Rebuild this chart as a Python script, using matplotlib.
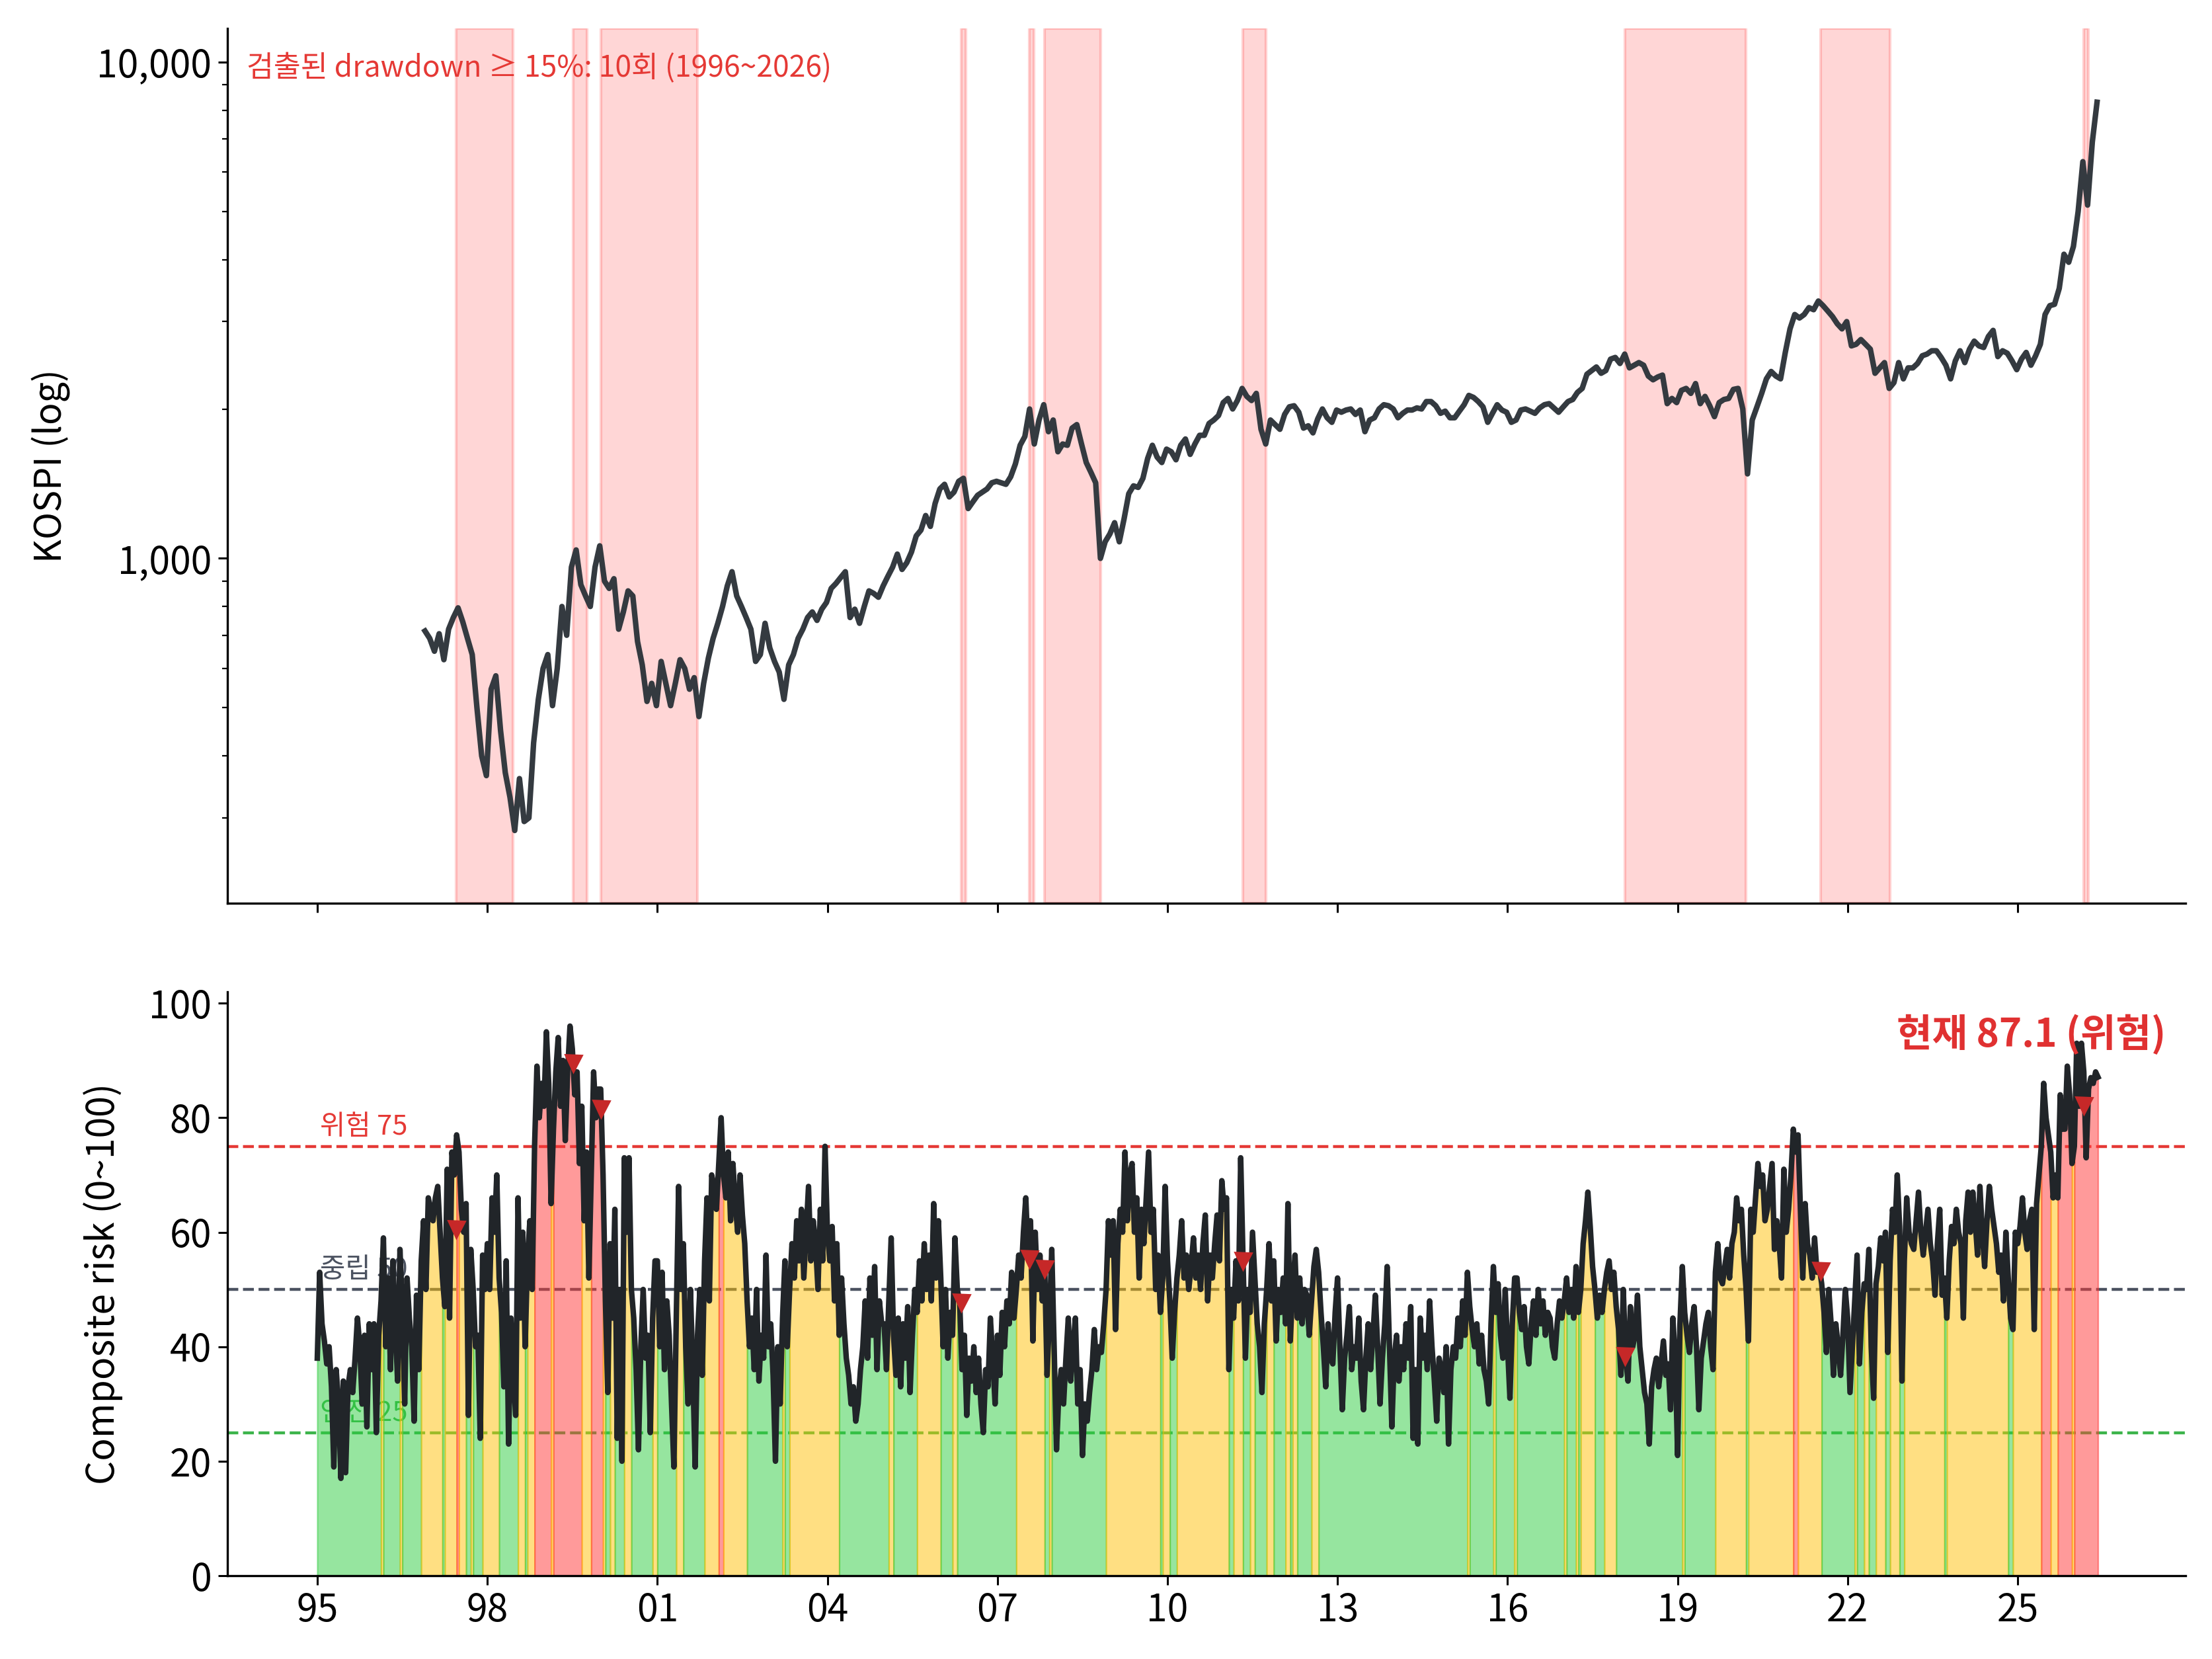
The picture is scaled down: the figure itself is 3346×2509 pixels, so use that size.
import numpy as np
import matplotlib
matplotlib.use("Agg")
import matplotlib.pyplot as plt
from matplotlib.ticker import FuncFormatter, NullFormatter, LogLocator

plt.rcParams['font.family'] = ['Noto Sans CJK KR', 'DejaVu Sans']
plt.rcParams['axes.unicode_minus'] = False

# KOSPI, monthly (starts late 1996)
kospi_1996_2005 = [
    714, 690,
    650, 705, 625, 720, 760, 795, 745, 690, 640, 500, 400, 365,
    545, 580, 450, 370, 330, 283, 360, 295, 300, 425, 520, 600,
    640, 505, 600, 800, 700, 960, 1040, 885, 840, 800, 960, 1060,
    900, 870, 910, 720, 780, 860, 840, 680, 610, 515, 560, 505,
    620, 560, 505, 560, 625, 600, 545, 575, 480, 560, 630, 690,
    740, 800, 880, 940, 840, 800, 760, 720, 620, 640, 740, 660,
    620, 590, 520, 610, 640, 690, 720, 760, 780, 750, 790, 815,
    870, 890, 915, 940, 760, 790, 740, 800, 860, 850, 835, 880,
    920, 960, 1020, 950, 980, 1030, 1110, 1140, 1220, 1160, 1290, 1380,
]
kospi_2006_2015 = [
    1410, 1330, 1360, 1430, 1450, 1260, 1300, 1340, 1360, 1380, 1420, 1430,
    1420, 1410, 1460, 1550, 1690, 1760, 2000, 1700, 1900, 2040, 1800, 1900,
    1640, 1700, 1690, 1830, 1860, 1700, 1560, 1490, 1420, 1000, 1080, 1120,
    1180, 1080, 1200, 1350, 1400, 1390, 1450, 1590, 1690, 1600, 1560, 1660,
    1640, 1580, 1690, 1740, 1620, 1700, 1770, 1770, 1870, 1900, 1940, 2060,
    2100, 2000, 2080, 2200, 2120, 2080, 2150, 1820, 1700, 1900, 1860, 1820,
    1950, 2020, 2030, 1970, 1830, 1850, 1790, 1910, 2000, 1920, 1880, 1990,
    1970, 1990, 2000, 1950, 1990, 1800, 1900, 1920, 2000, 2040, 2030, 2000,
    1920, 1960, 1990, 1990, 2010, 2000, 2070, 2070, 2030, 1960, 1980, 1920,
    1920, 1980, 2040, 2130, 2110, 2070, 2020, 1880, 1960, 2040, 1990, 1970,
]
kospi_2016_2026 = [
    1880, 1900, 1990, 2000, 1980, 1960, 2010, 2040, 2050, 2010, 1970, 2020,
    2070, 2090, 2160, 2200, 2350, 2390, 2430, 2360, 2390, 2520, 2540, 2470,
    2580, 2420, 2450, 2480, 2450, 2330, 2290, 2320, 2340, 2050, 2100, 2060,
    2180, 2200, 2150, 2250, 2050, 2120, 2030, 1930, 2060, 2090, 2100, 2190,
    2200, 2000, 1480, 1900, 2020, 2150, 2300, 2380, 2330, 2300, 2600, 2900,
    3100, 3050, 3100, 3200, 3170, 3300, 3230, 3150, 3070, 2970, 2900, 3000,
    2680, 2700, 2760, 2700, 2640, 2360, 2420, 2480, 2200, 2260, 2480, 2300,
    2420, 2420, 2470, 2560, 2580, 2620, 2620, 2540, 2450, 2300, 2500, 2620,
    2480, 2640, 2740, 2680, 2660, 2800, 2880, 2550, 2620, 2590, 2500, 2400,
    2520, 2600, 2450, 2560, 2700, 3100, 3230, 3250, 3500, 4100, 3950, 4250,
    5000, 6300, 5150, 6900, 8300,
]

# composite risk, two readings per month from Jan 1995
risk_1995_2004 = [
    38, 53, 44, 41, 37, 40, 33, 19, 36, 30, 17, 34, 18, 33, 36, 32, 38, 45, 40, 30, 42, 26, 44, 36,
    44, 25, 42, 48, 59, 40, 52, 36, 55, 44, 34, 57, 47, 30, 52, 45, 40, 27, 49, 36, 55, 62, 50, 66,
    64, 62, 66, 68, 60, 52, 47, 71, 45, 74, 70, 77, 74, 64, 60, 65, 28, 57, 50, 40, 42, 24, 56, 50,
    58, 50, 66, 60, 70, 52, 46, 33, 55, 23, 45, 35, 28, 66, 45, 60, 40, 55, 62, 50, 75, 89, 80, 86,
    82, 95, 86, 65, 78, 88, 94, 82, 90, 76, 88, 96, 92, 84, 88, 72, 82, 62, 74, 52, 70, 88, 80, 85,
    85, 70, 48, 32, 58, 45, 64, 24, 50, 20, 73, 60, 73, 50, 45, 36, 22, 40, 50, 38, 42, 25, 45, 55,
    55, 40, 53, 36, 48, 42, 30, 19, 45, 68, 50, 58, 40, 30, 50, 36, 19, 42, 50, 35, 55, 66, 48, 70,
    68, 64, 72, 80, 70, 66, 74, 62, 72, 65, 60, 70, 63, 58, 48, 40, 45, 36, 50, 34, 42, 38, 56, 40,
    44, 35, 20, 40, 30, 45, 55, 40, 50, 58, 52, 62, 55, 64, 52, 60, 68, 55, 62, 58, 50, 64, 55, 75,
    60, 55, 61, 48, 58, 42, 52, 44, 38, 35, 30, 33, 27, 30, 36, 40, 48, 38, 52, 42, 54, 36, 48, 44,
]
risk_2005_2014 = [
    44, 36, 48, 59, 42, 35, 45, 33, 44, 38, 47, 32, 42, 50, 46, 55, 48, 58, 50, 56, 48, 65, 52, 62,
    52, 40, 50, 38, 46, 42, 59, 50, 48, 36, 42, 28, 38, 34, 40, 32, 38, 30, 25, 36, 33, 45, 38, 30,
    42, 35, 46, 40, 48, 44, 53, 45, 50, 56, 52, 60, 66, 56, 62, 41, 60, 50, 56, 48, 54, 35, 45, 57,
    40, 22, 32, 36, 30, 38, 45, 34, 40, 45, 30, 36, 21, 30, 27, 32, 36, 43, 36, 40, 39, 44, 50, 62,
    56, 62, 43, 58, 64, 60, 74, 62, 70, 72, 60, 66, 52, 64, 58, 66, 74, 60, 64, 50, 56, 46, 52, 68,
    55, 48, 38, 46, 52, 56, 62, 52, 56, 50, 54, 59, 52, 56, 50, 58, 63, 48, 56, 52, 58, 63, 55, 69,
    64, 66, 36, 50, 45, 55, 48, 73, 55, 38, 50, 46, 60, 52, 44, 40, 32, 44, 50, 58, 48, 55, 41, 50,
    46, 52, 44, 65, 41, 50, 56, 45, 52, 44, 50, 49, 42, 48, 54, 57, 53, 46, 40, 33, 44, 38, 37, 46,
    52, 40, 29, 38, 42, 47, 36, 40, 38, 45, 34, 29, 38, 44, 36, 42, 49, 40, 30, 38, 44, 54, 40, 26,
    38, 42, 34, 40, 36, 44, 38, 47, 24, 36, 23, 45, 38, 42, 36, 48, 40, 34, 27, 38, 36, 32, 40, 23,
]
risk_2015_2026 = [
    36, 40, 38, 45, 40, 48, 42, 53, 47, 43, 40, 44, 37, 42, 36, 34, 30, 44, 54, 46, 51, 42, 38, 50,
    40, 31, 44, 52, 52, 46, 43, 47, 40, 37, 44, 48, 42, 50, 44, 48, 42, 46, 45, 40, 38, 44, 48, 45,
    48, 52, 46, 50, 45, 54, 46, 50, 58, 62, 67, 61, 54, 50, 45, 49, 46, 50, 53, 55, 50, 53, 47, 43,
    35, 50, 38, 34, 47, 40, 42, 49, 40, 36, 32, 30, 23, 33, 36, 38, 33, 37, 41, 35, 37, 29, 45, 38,
    21, 44, 54, 46, 42, 39, 44, 47, 40, 29, 38, 41, 44, 46, 40, 36, 53, 58, 52, 51, 54, 57, 52, 58,
    60, 66, 62, 64, 56, 50, 41, 64, 60, 66, 72, 68, 70, 62, 64, 68, 72, 57, 62, 58, 52, 71, 60, 64,
    70, 78, 74, 77, 64, 52, 65, 58, 56, 52, 59, 53, 54, 51, 46, 39, 50, 44, 35, 44, 40, 35, 42, 50,
    45, 32, 40, 48, 56, 37, 46, 51, 50, 57, 40, 31, 51, 54, 59, 55, 60, 39, 55, 64, 60, 70, 61, 34,
    55, 66, 60, 58, 57, 62, 67, 60, 56, 60, 64, 58, 55, 49, 58, 64, 49, 52, 45, 55, 61, 58, 64, 60,
    58, 45, 62, 67, 60, 67, 62, 56, 68, 60, 54, 62, 68, 64, 61, 58, 53, 56, 48, 60, 52, 45, 43, 60,
    58, 61, 66, 60, 57, 62, 64, 43, 65, 70, 75, 86, 80, 77, 74, 66, 70, 66, 84, 78, 78, 89, 84, 72,
    75, 93, 82, 93, 88, 73, 85, 87, 86, 88, 87.1,
]

# drawdown >= 15% episodes (start / end, decimal year) and risk at the start
dd_start = [1997.45, 1999.51, 2000.00, 2006.36, 2007.56, 2007.83, 2011.33, 2018.07, 2021.52, 2026.16]
dd_end = [1998.45, 1999.76, 2001.71, 2006.44, 2007.64, 2008.82, 2011.74, 2020.21, 2022.75, 2026.25]
dd_risk = [60.5, 89.5, 81.5, 47.7, 55.3, 53.6, 55.0, 38.4, 53.3, 82.1]

levels = [75, 50, 25]
level_labels = ['위험 75', '중립 50', '안전 25']
level_colors = ['#e53935', '#4b5260', '#3cb44b']
zone_colors = ['#2ecc40', '#ffc107', '#ff3737']   # <50, 50-75, >=75

tick_years = list(range(1995, 2026, 3))
tick_labels = [f'{y % 100:02d}' for y in tick_years]

kospi = np.array(kospi_1996_2005 + kospi_2006_2015 + kospi_2016_2026, dtype=float)
kospi_t = 1996.9 + np.arange(len(kospi)) / 12
risk = np.array(risk_1995_2004 + risk_2005_2014 + risk_2015_2026, dtype=float)
risk_t = 1995 + np.arange(len(risk)) / 24

fig = plt.figure(figsize=(16.73, 12.545), dpi=200)
ax1 = fig.add_axes([0.1027, 0.4556, 0.8853, 0.5274])
ax2 = fig.add_axes([0.1027, 0.0502, 0.8853, 0.3520], sharex=ax1)

# top: KOSPI with drawdown shading
for s, e in zip(dd_start, dd_end):
    ax1.axvspan(s, e, facecolor=(1, 0, 0, 0.16), edgecolor=(1, 0.2, 0.2, 0.22), lw=1.5, zorder=1)
ax1.plot(kospi_t, kospi, color='#343a40', lw=3.0, zorder=3)
ax1.set_yscale('log')
ax1.set_ylim(202, 11700)
ax1.yaxis.set_major_locator(LogLocator(base=10))
ax1.yaxis.set_major_formatter(FuncFormatter(lambda v, p: f'{v:,.0f}'))
ax1.yaxis.set_minor_formatter(NullFormatter())
ax1.set_ylabel('KOSPI (log)', fontsize=20, labelpad=14)
ax1.text(0.01, 0.972, '검출된 drawdown ≥ 15%: 10회 (1996~2026)', transform=ax1.transAxes,
         color='#e53935', fontsize=16, fontweight='light', ha='left', va='top')
ax1.tick_params(labelbottom=False)

# bottom: composite risk
for lvl, lab, c in zip(levels, level_labels, level_colors):
    ax2.axhline(lvl, color=c, ls='--', lw=1.6, zorder=1)
    ax2.text(1995.05, lvl + 1, lab, color=c, fontsize=15, fontweight='light',
             ha='left', va='bottom', zorder=1.2)

# colour each stretch by the zone of its segment midpoint
mid = (risk[:-1] + risk[1:]) / 2
zone = np.digitize(mid, [50, 75])
start = 0
for i in range(1, len(zone) + 1):
    if i == len(zone) or zone[i] != zone[start]:
        sl = slice(start, i + 1)
        c = zone_colors[zone[start]]
        ax2.fill_between(risk_t[sl], 0, risk[sl], facecolor=c, edgecolor=c,
                         alpha=0.5, lw=0.8, zorder=1.5)
        start = i

ax2.plot(risk_t, risk, color='#212529', lw=3.0, zorder=3)
ax2.plot(dd_start, dd_risk, 'v', color='#c62828', ms=9, zorder=4)
ax2.text(0.99, 0.96, f'현재 {risk[-1]:.1f} (위험)', transform=ax2.transAxes, ha='right', va='top',
         fontsize=21, fontweight='bold', color='#e03131', zorder=5)
ax2.set_ylim(0, 102)
ax2.set_yticks([0, 20, 40, 60, 80, 100])
ax2.set_ylabel('Composite risk (0~100)', fontsize=20.5, labelpad=14)
ax2.set_xticks(tick_years)
ax2.set_xticklabels(tick_labels)
ax2.set_xlim(1993.41, 2027.96)

for ax in (ax1, ax2):
    ax.spines['top'].set_visible(False)
    ax.spines['right'].set_visible(False)
    ax.spines['left'].set_linewidth(1.2)
    ax.spines['bottom'].set_linewidth(1.2)
    ax.tick_params(axis='both', which='major', labelsize=20.5, length=5, width=1.1)
    ax.tick_params(axis='both', which='minor', length=3, width=0.8)

fig.savefig('out.png', dpi=200)
